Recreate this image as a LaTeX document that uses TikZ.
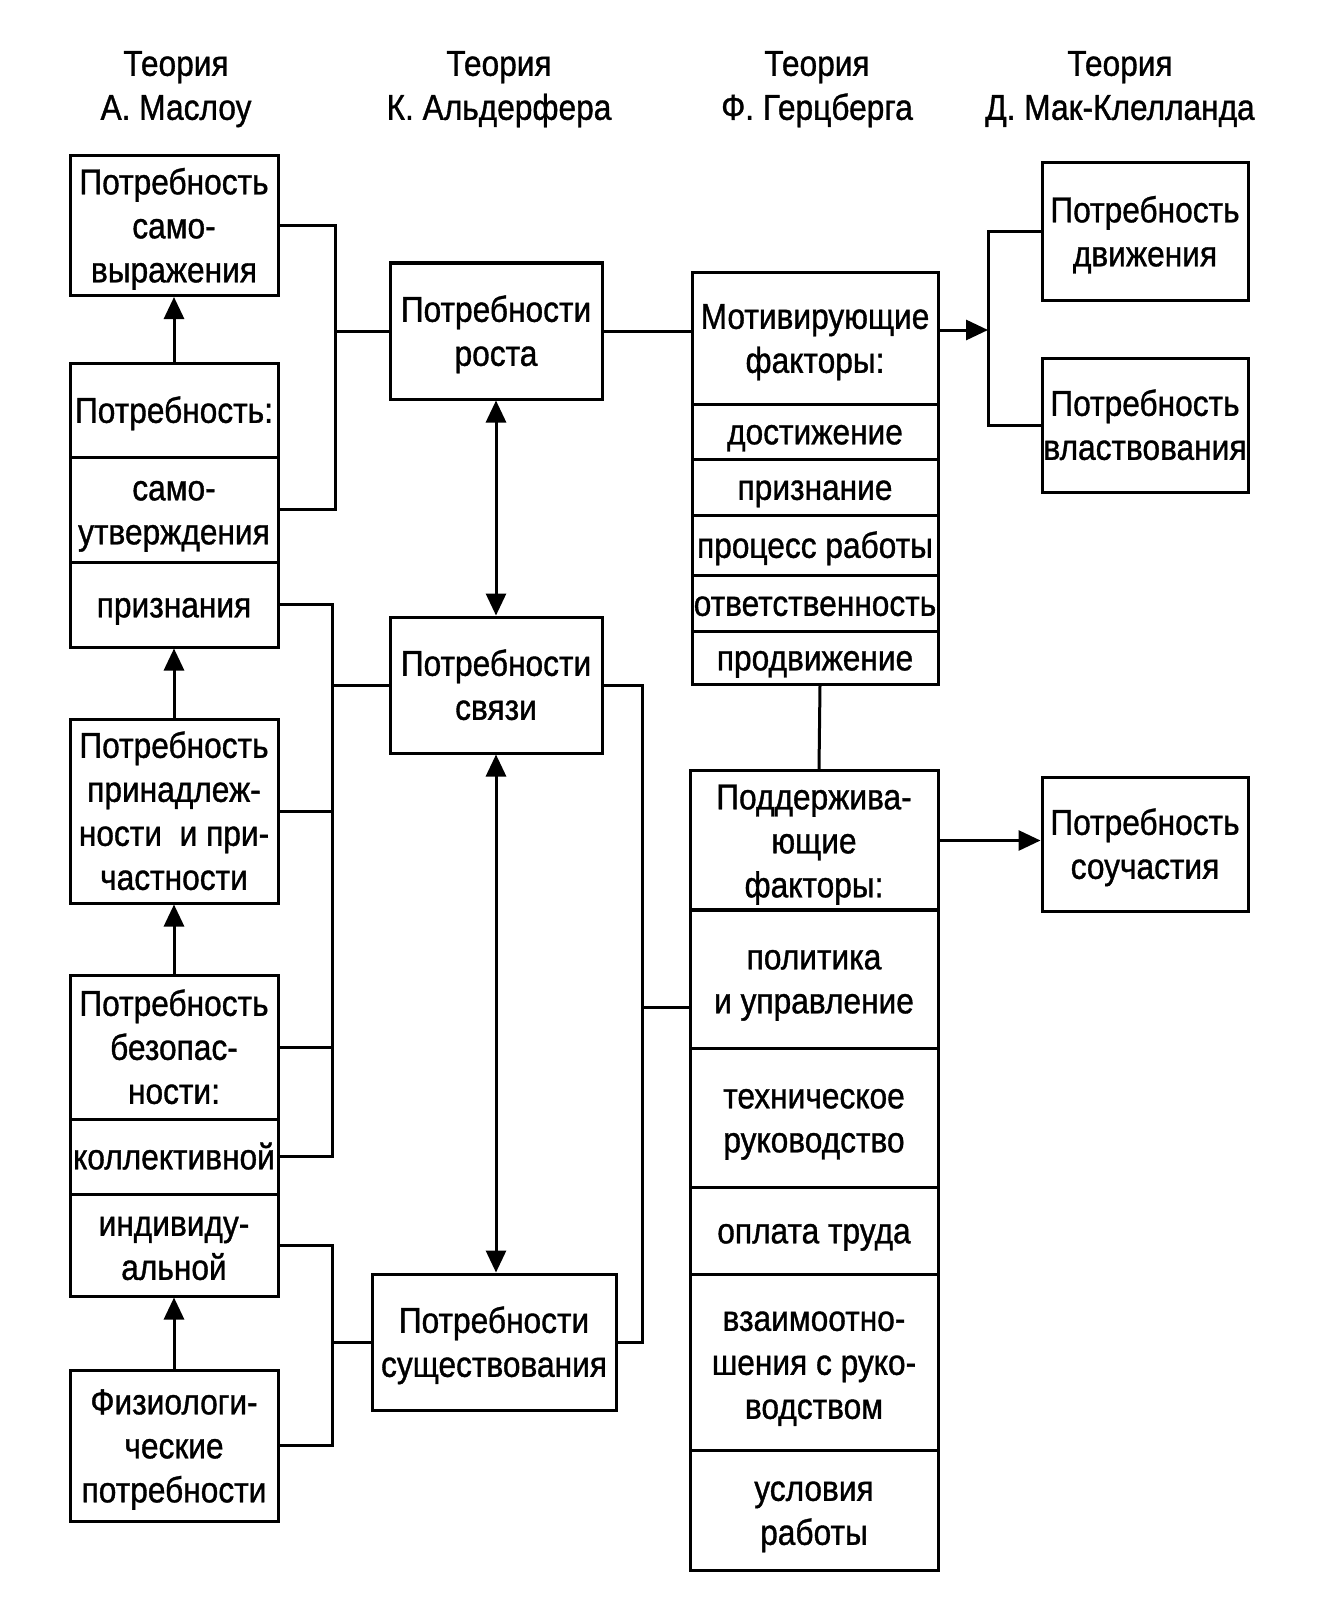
\documentclass[tikz,border=0pt]{standalone}
\usepackage{fontspec}
\usetikzlibrary{arrows.meta}
\newfontfamily\myfont{Liberation Sans}[FakeStretch=0.88,FakeBold=1.0]
\newcommand\mktext[1]{\begin{tabular}{@{}c@{}}\noalign{\vskip4pt}#1\end{tabular}}
\newcommand\mkcell[6]{\node[cell, minimum width={(#4-#2)*0.5pt}, minimum height={(#5-#3)*0.5pt}] (#1) at ({(#2+#4)/2},{(#3+#5)/2}) {\mktext{#6}};}
\tikzset{
  txt/.style={font=\myfont\fontsize{18}{22}\selectfont},
  cell/.style={txt, draw, line width=1.5pt, inner sep=0pt},
  hdr/.style={txt, inner sep=0pt},
  conn/.style={line width=1.5pt},
  tip/.style={-{Triangle[length=11pt,width=10pt]}},
  dtip/.style={{Triangle[length=11pt,width=10pt]}-{Triangle[length=11pt,width=10pt]}}
}
\begin{document}
\begin{tikzpicture}[x=0.5pt,y=-0.5pt]
\useasboundingbox (0,0) rectangle (1323,1605);
% headers
\node[hdr] (H1) at (176,85) {\mktext{Теория\\А. Маслоу}};
\node[hdr] (H2) at (499,85) {\mktext{Теория\\К. Альдерфера}};
\node[hdr] (H3) at (817,85) {\mktext{Теория\\Ф. Герцберга}};
\node[hdr] (H4) at (1120,85) {\mktext{Теория\\Д. Мак-Клелланда}};
% Maslow
\mkcell{A1}{70}{157}{278}{294}{Потребность\\само-\\выражения}
\mkcell{A2a}{70}{363}{278}{457}{Потребность:}
\mkcell{A2b}{70}{457}{278}{562}{само-\\утверждения}
\mkcell{A2c}{70}{562}{278}{647}{признания}
\mkcell{A3}{70}{720}{278}{902}{Потребность\\принадлеж-\\ности\ \ и при-\\частности}
\mkcell{A4a}{70}{975}{278}{1119}{Потребность\\безопас-\\ности:}
\mkcell{A4b}{70}{1119}{278}{1194}{коллективной}
\mkcell{A4c}{70}{1194}{278}{1296}{индивиду-\\альной}
\mkcell{A5}{70}{1370}{278}{1521}{Физиологи-\\ческие\\потребности}
% Alderfer
\mkcell{B1}{390}{263}{602}{399}{Потребности\\роста}
\mkcell{B2}{390}{617}{602}{753}{Потребности\\связи}
\mkcell{B3}{372}{1274}{616}{1410}{Потребности\\существования}
% Herzberg
\mkcell{C1a}{692}{272}{938}{404}{Мотивирующие\\факторы:}
\mkcell{C1b}{692}{404}{938}{459}{достижение}
\mkcell{C1c}{692}{459}{938}{515}{признание}
\mkcell{C1d}{692}{515}{938}{575}{процесс работы}
\mkcell{C1e}{692}{575}{938}{631}{ответственность}
\mkcell{C1f}{692}{631}{938}{684}{продвижение}
\mkcell{C2a}{690}{772}{938}{909}{Поддержива-\\ющие\\факторы:}
\mkcell{C2b}{690}{909}{938}{1048}{политика\\и управление}
\mkcell{C2c}{690}{1048}{938}{1187}{техническое\\руководство}
\mkcell{C2d}{690}{1187}{938}{1274}{оплата труда}
\mkcell{C2e}{690}{1274}{938}{1450}{взаимоотно-\\шения с руко-\\водством}
\mkcell{C2f}{690}{1450}{938}{1570}{условия\\работы}
% McClelland
\mkcell{D1}{1042}{163}{1248}{300}{Потребность\\движения}
\mkcell{D2}{1042}{358}{1248}{492}{Потребность\\властвования}
\mkcell{D3}{1042}{777}{1248}{911}{Потребность\\соучастия}
% coordinates
\coordinate (xL1) at (335,0);
\coordinate (xL2) at (332,0);
\coordinate (xR) at (642,0);
\coordinate (xD) at (988,0);
\coordinate (jR) at (642,1007);
\coordinate (jD) at (988,330);
% Maslow hierarchy arrows
\draw[conn,tip] (A2a.north) -- (A1.south);
\draw[conn,tip] (A3.north) -- (A2c.south);
\draw[conn,tip] (A4a.north) -- (A3.south);
\draw[conn,tip] (A5.north) -- (A4c.south);
% Maslow -> Alderfer brackets
\draw[conn] (A1.east) -- (A1.east -| xL1) -- (A2b.east -| xL1) -- (A2b.east);
\draw[conn] (B1.west) -- (B1.west -| xL1);
\draw[conn] (A2c.east) -- (A2c.east -| xL2) -- (A4b.east -| xL2) -- (A4b.east);
\draw[conn] (A3.east) -- (A3.east -| xL2);
\draw[conn] (A4a.east) -- (A4a.east -| xL2);
\draw[conn] (B2.west) -- (B2.west -| xL2);
\draw[conn] (A4c.east) -- (A4c.east -| xL2) -- (A5.east -| xL2) -- (A5.east);
\draw[conn] (B3.west) -- (B3.west -| xL2);
% Alderfer internal
\draw[conn,dtip] (B1.south) -- (B2.north);
\draw[conn,dtip] (B2.south) -- (B2.south |- B3.north);
% Alderfer -> Herzberg
\draw[conn] (B1.east) -- (B1.east -| C1a.west);
\draw[conn] (B2.east) -- (B2.east -| xR) -- (B3.east -| xR) -- (B3.east);
\draw[conn] (jR) -- (jR -| C2b.west);
\draw[conn] ([xshift=2.5pt]C1f.south) -- ([xshift=2.5pt]C2a.north);
% Herzberg -> McClelland
\draw[conn,tip] (C1a.east |- jD) -- (jD);
\draw[conn] (D1.west) -- (D1.west -| xD) -- (D2.west -| xD) -- (D2.west);
\draw[conn,tip] (C2a.east) -- (C2a.east -| D3.west);
\end{tikzpicture}
\end{document}
